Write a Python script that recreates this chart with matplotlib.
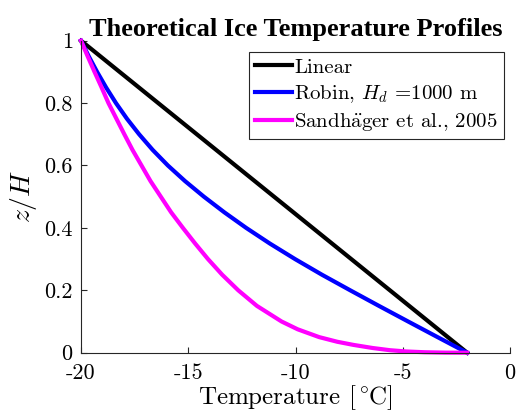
import numpy as np
import matplotlib
matplotlib.use("Agg")
import matplotlib.pyplot as plt

# Ice temperature profiles, z/H against temperature in deg C
z_lin = [1.0, 0.0]
T_lin = [-20.0, -2.0]

# Robin solution, H_d = 1000 m
z_robin = [1.0, 0.95, 0.9, 0.85, 0.8, 0.75, 0.7, 0.65, 0.6, 0.55, 0.5, 0.45, 0.4,
           0.35, 0.3, 0.25, 0.2, 0.15, 0.1, 0.05, 0.0]
T_robin = [-20.0, -19.64, -19.25, -18.83, -18.37, -17.86, -17.29, -16.66, -15.95, -15.15, -14.27, -13.32, -12.30,
           -11.20, -10.02, -8.77, -7.45, -6.11, -4.75, -3.38, -2.0]

# Sandhager et al. (2005)
z_sand = [1.0, 0.95, 0.9, 0.85, 0.8, 0.75, 0.7, 0.65, 0.6, 0.55, 0.5, 0.45, 0.4, 0.35,
          0.3, 0.25, 0.2, 0.15, 0.1, 0.075, 0.05, 0.035, 0.025, 0.015, 0.008, 0.004,
          0.0015, 0.0002, 0.0]
T_sand = [-20.0, -19.69, -19.37, -19.04, -18.72, -18.35, -17.98, -17.6, -17.18, -16.76, -16.28, -15.8, -15.25, -14.68,
          -14.08, -13.42, -12.67, -11.8, -10.65, -9.9, -8.9, -8.05, -7.3, -6.4, -5.6, -4.85,
          -4.0, -3.0, -2.0]

xticks = [-20, -15, -10, -5, 0]
xticklabels = ['-20', '-15', '-10', '-5', '0']
yticks = [0, 0.2, 0.4, 0.6, 0.8, 1]
yticklabels = ['0', '0.2', '0.4', '0.6', '0.8', '1']

plt.rcParams['font.family'] = 'cmr10'
plt.rcParams['mathtext.fontset'] = 'cm'
plt.rcParams['axes.unicode_minus'] = False
plt.rcParams['axes.formatter.use_mathtext'] = True

gray = '#262626'

fig = plt.figure(figsize=(5.17, 4.17), dpi=100)
ax = fig.add_axes([0.1567, 0.1542, 0.8298, 0.7482])

line_kw = dict(lw=3, clip_on=False, solid_joinstyle='round')
ax.plot(T_lin, z_lin, color='black', label='Linear', **line_kw)
ax.plot(T_robin, z_robin, color='blue', label=r'Robin, $H_d$ =1000 m', **line_kw)
ax.plot(T_sand, z_sand, color='magenta',
        label=r'Sandh$\ddot{\mathrm{a}}$ger et al., 2005', **line_kw)

ax.set_xlim(-20, 0)
ax.set_ylim(0, 1)
ax.set_xticks(xticks)
ax.set_xticklabels(xticklabels)
ax.set_yticks(yticks)
ax.set_yticklabels(yticklabels)
ax.tick_params(direction='in', length=4, width=0.8, colors=gray, labelcolor='black',
               labelsize=16)
ax.tick_params(axis='x', pad=8)
ax.tick_params(axis='y', pad=6)

for side in ['top', 'right']:
    ax.spines[side].set_visible(False)
for side in ['left', 'bottom']:
    ax.spines[side].set_color(gray)
    ax.spines[side].set_linewidth(0.8)

ax.set_xlabel(r'Temperature $[{}^\circ\!\mathrm{C}]$', fontsize=18, labelpad=0)
ax.set_ylabel(r'$z/H$', fontsize=20, labelpad=4)
ax.set_title('Theoretical Ice Temperature Profiles', fontfamily='Liberation Serif',
             fontweight='bold', fontsize=19, pad=3)

leg = ax.legend(loc='upper right', bbox_to_anchor=(0.986, 0.964), borderaxespad=0,
                fontsize=15, handlelength=1.8, handletextpad=0.1, borderpad=0.3,
                labelspacing=0.3, fancybox=False, framealpha=1)
leg.get_frame().set_edgecolor(gray)
leg.get_frame().set_linewidth(0.8)

fig.savefig('out.png', dpi=100)
